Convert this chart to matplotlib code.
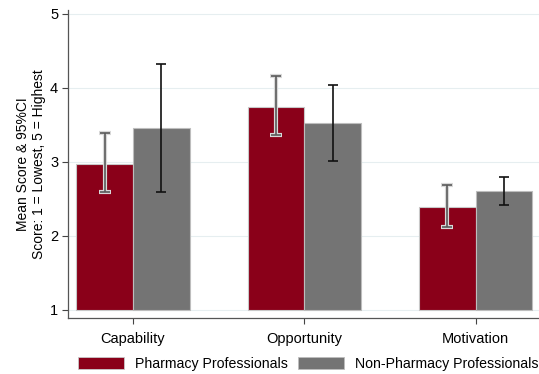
import numpy as np
import matplotlib.pyplot as plt
from matplotlib.patches import Patch

plt.rcParams["font.family"] = ["Liberation Sans", "DejaVu Sans"]

categories = ["Capability", "Opportunity", "Motivation"]
groups = ["Pharmacy Professionals", "Non-Pharmacy Professionals"]
pharm_mean = [2.97, 3.74, 2.39]
pharm_lo = [2.59, 3.36, 2.12]
pharm_hi = [3.39, 4.16, 2.69]
nonpharm_mean = [3.46, 3.53, 2.61]
nonpharm_lo = [2.59, 3.01, 2.42]
nonpharm_hi = [4.32, 4.04, 2.80]

RED = "#8a0019"
GREY = "#747474"

fig = plt.figure(figsize=(5.39, 3.74), dpi=100)
ax = fig.add_axes([0.126, 0.150, 0.874, 0.823])

x = np.arange(len(categories))
w = 0.33
base = 1.0

for offset, means, lo, hi, color, ecol, edge in [
    (-w / 2, pharm_mean, pharm_lo, pharm_hi, RED, "#5a5a5a", "#c8c8c8"),
    (w / 2, nonpharm_mean, nonpharm_lo, nonpharm_hi, GREY, "#111111", "#bdbdbd"),
]:
    means = np.array(means)
    ax.bar(x + offset, means - base, bottom=base, width=w, color=color,
           edgecolor=edge, linewidth=0.8, zorder=2)
    err = [means - np.array(lo), np.array(hi) - means]
    if ecol == "#5a5a5a":
        # light halo behind the darker whisker
        ax.errorbar(x + offset, means, yerr=err, fmt="none", ecolor="#d8d8d8",
                    elinewidth=3.0, capsize=4.0, capthick=3.0, zorder=3)
    ax.errorbar(x + offset, means, yerr=err, fmt="none", ecolor=ecol,
                elinewidth=1.2, capsize=3.5, capthick=1.2, zorder=4)

ax.set_xlim(-0.38, 2.37)
ax.set_ylim(0.89, 5.05)
ax.set_yticks([1, 2, 3, 4, 5])
ax.set_xticks(x)
ax.set_xticklabels(categories, fontsize=10.5)
ax.tick_params(axis="y", labelsize=10.5, length=4, color="#444444", pad=3)
ax.tick_params(axis="x", length=4, color="#444444", pad=6)
ax.yaxis.grid(True, color="#e6eef0", linewidth=0.8, zorder=0)
ax.set_axisbelow(True)
for s in ["top", "right"]:
    ax.spines[s].set_visible(False)
for s in ["left", "bottom"]:
    ax.spines[s].set_color("#555555")
    ax.spines[s].set_linewidth(0.9)

ax.set_ylabel("Mean Score & 95%CI\nScore: 1 = Lowest, 5 = Highest",
              fontsize=10, labelpad=3, linespacing=1.15)

handles = [Patch(facecolor=RED, edgecolor="#c8c8c8", linewidth=0.6),
           Patch(facecolor=GREY, edgecolor="#bdbdbd", linewidth=0.6)]
fig.legend(handles, groups, loc="center", bbox_to_anchor=(0.572, 0.027),
           ncol=2, frameon=False, fontsize=10.2, handlelength=3.25,
           handleheight=0.85, columnspacing=0.77, handletextpad=0.77,
           borderaxespad=0.0, borderpad=0.0)

fig.savefig("out.png", dpi=100)
